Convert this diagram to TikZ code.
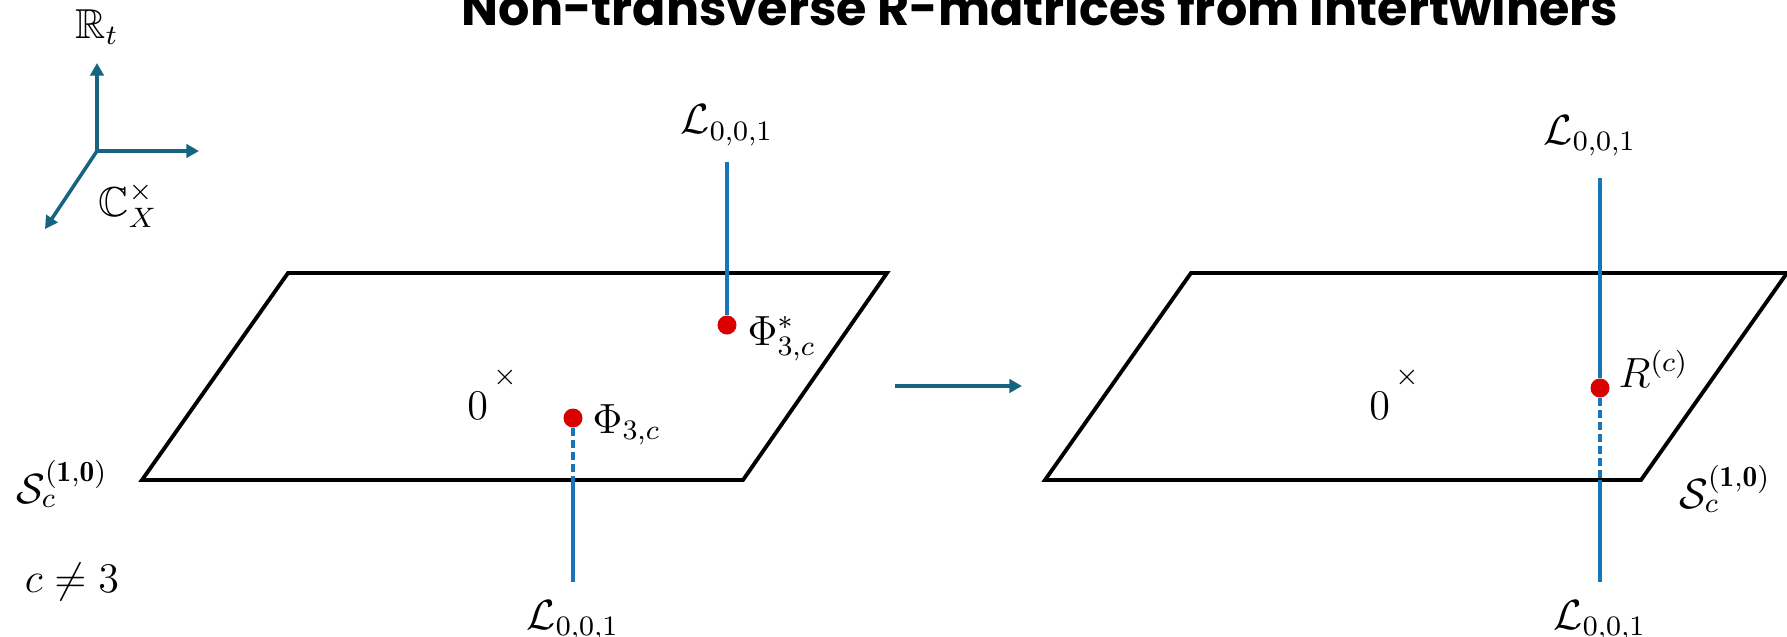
\documentclass[tikz,border=0pt]{standalone}
\usepackage{amsmath, amssymb, bm}
\usepackage{xcolor}
\usepackage{fontspec}
\newfontfamily\titlefont{Poppins}
\usepackage{tikz}
\usetikzlibrary{positioning, arrows.meta}

\definecolor{axteal}{RGB}{22,101,128}
\definecolor{lblue}{RGB}{25,117,186}
\definecolor{dred}{RGB}{218,0,0}

\begin{document}
\begin{tikzpicture}[x=0.01cm, y=-0.01cm, >={Triangle[length=3.6pt, width=3.8pt]},
                    every node/.style={font=\fontsize{11.9}{14}\selectfont, inner sep=0pt},
                    plane/.style={draw, line width=1.1pt},
                    axis/.style={->, draw=axteal, line width=1pt},
                    wline/.style={draw=lblue, line width=0.9pt},
                    hline/.style={wline, dash pattern=on 2.2pt off 1.2pt},
                    rdot/.style={circle, fill=dred, minimum size=0.19cm},
                    orig/.style={font=\fontsize{8.5}{8.5}\selectfont}]
                \useasboundingbox (0,0) rectangle (1787,636);

                \node[font=\titlefont\bfseries\fontsize{14}{16}\selectfont, anchor=base] (title) at (1040,25) {Non-transverse R-matrices from intertwiners};

                \coordinate (ax) at (97,151);
                \coordinate (axt) at (97,63);
                \coordinate (axx) at (199,151);
                \coordinate (axc) at (45,229);
                \node (Rt) at (97,27) {$\mathbb{R}_t$};
                \node (Cx) at (128,205) {$\mathbb{C}_X^\times$};
                \draw[axis] (ax) -- (axt);
                \draw[axis] (ax) -- (axx);
                \draw[axis] (ax) -- (axc);

                \draw[plane] (288,273) -- (887,273) -- (743,480) -- (142,480) -- cycle;
                \draw[plane] (1191,273) -- (1787,273) -- (1641,480) -- (1045,480) -- cycle;

                \node (S1) at (62,484) {$\mathcal{S}_c^{(\mathbf{1},\mathbf{0})}$};
                \node (S2) at (1725,489) {$\mathcal{S}_c^{(\mathbf{1},\mathbf{0})}$};
                \node (neq) at (72,582) {$c\neq3$};

                \node[orig] (O1) at (505,377) {$\times$};
                \node[below left=1.6pt of O1] (Z1) {$0$};
                \node[orig] (O2) at (1407,377) {$\times$};
                \node[below left=1.6pt of O2] (Z2) {$0$};

                \node[rdot] (P1) at (727,325) {};
                \node[rdot] (P2) at (573,418) {};
                \node[anchor=base west] (P1l) at (747,345) {$\Phi^*_{3,c}$};
                \node[anchor=base west] (P2l) at (592,433) {$\Phi_{3,c}$};
                \coordinate (T1) at (727,162);
                \coordinate (E1) at (573,480);
                \coordinate (B1) at (573,582);
                \node[above=4.5pt of T1] (L1) {$\mathcal{L}_{0,0,1}$};
                \node[below=5pt of B1] (L2) {$\mathcal{L}_{0,0,1}$};
                \draw[wline] (T1) -- (P1);
                \draw[hline] (P2) -- (E1);
                \draw[wline] (E1) -- (B1);

                \coordinate (A1) at (895,386);
                \coordinate (A2) at (1022,386);
                \draw[axis] (A1) -- (A2);

                \node[rdot] (Rc) at (1600,388) {};
                \node[anchor=base west] (Rcl) at (1618,387) {$R^{(c)}$};
                \coordinate (T2) at (1600,178);
                \coordinate (E2) at (1600,480);
                \coordinate (B2) at (1600,582);
                \node[above=6pt of T2, xshift=-0.1cm] (L3) {$\mathcal{L}_{0,0,1}$};
                \node[below=5pt of B2] (L4) {$\mathcal{L}_{0,0,1}$};
                \draw[wline] (T2) -- (Rc);
                \draw[hline] (Rc) -- (E2);
                \draw[wline] (E2) -- (B2);
            \end{tikzpicture}
\end{document}
